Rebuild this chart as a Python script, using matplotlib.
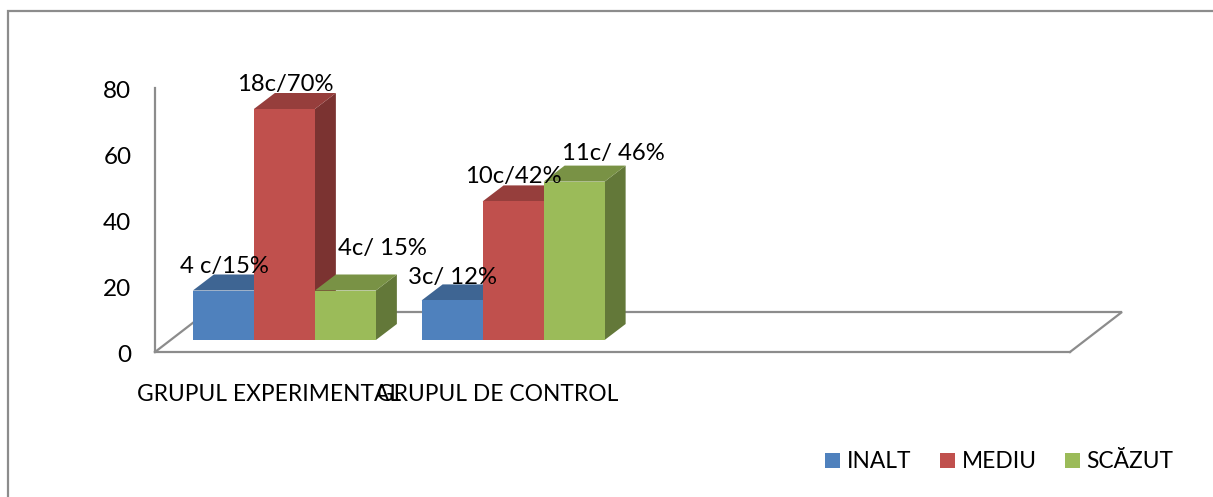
import matplotlib
matplotlib.use("Agg")
import matplotlib.pyplot as plt
from matplotlib.patches import Polygon, Patch
from matplotlib.lines import Line2D
from matplotlib.colors import to_rgb
from matplotlib.transforms import ScaledTranslation

categories = ["GRUPUL EXPERIMENTAL", "GRUPUL DE CONTROL", "", ""]
series_names = ["INALT", "MEDIU", "SCĂZUT"]
inalt = [15, 12]
mediu = [70, 42]
scazut = [15, 48]
labels_inalt = ["4 c/15%", "3c/ 12%"]
labels_mediu = ["18c/70%", "10c/42%"]
labels_scazut = ["4c/ 15%", "11c/ 46%"]
y_ticks = [0, 20, 40, 60, 80]

W, H = 1213, 497
FONT = "Lato"
FS = 16.4
GRAY = "#8C8C8C"
colors = ["#4F81BD", "#C0504D", "#9BBB59"]

fig = plt.figure(figsize=(W / 100, H / 100), dpi=100, facecolor="white")
ax = fig.add_axes([155 / W, 1 - 352 / H, 915 / W, 264 / H])
ax.set_xlim(-0.5, 3.5)
ax.set_ylim(0, 80)
ax.patch.set_alpha(0)

px_x = 4 / 915  # data units per pixel
px_y = 80 / 264
bar_w = 61 * px_x
shift = 15 * px_x
base = 12 * px_y
dx, dy = 21 * px_x, 16 * px_y
fdx, fdy = 52 * px_x, 40 * px_y


def shade(c, f):
    return tuple(v * f for v in to_rgb(c))


# floor
ax.plot([-0.5, -0.5 + fdx, 3.5 + fdx, 3.5], [0, fdy, fdy, 0], color=GRAY, lw=1.6,
        clip_on=False, zorder=1, solid_joinstyle="miter")

all_vals = [inalt, mediu, scazut]
all_labels = [labels_inalt, labels_mediu, labels_scazut]
# label offsets from the top centre of each bar, in pixels
offsets = [[(1, 24.5), (0, 22.5)], [(1, 24.5), (0, 24.5)], [(37, 42.5), (39.5, 28.5)]]

for g in range(2):
    for s, vals in enumerate(all_vals):
        v = vals[g]
        cx = g + shift + (s - 1) * bar_w
        xl, xr = cx - bar_w / 2, cx + bar_w / 2
        top = base + v
        z = 3 + g * 3 + s
        ax.add_patch(Polygon([(xr, base), (xr, top), (xr + dx, top + dy), (xr + dx, base + dy)],
                             closed=True, fc=shade(colors[s], 0.64), ec="none", clip_on=False, zorder=z))
        ax.add_patch(Polygon([(xl, top), (xr, top), (xr + dx, top + dy), (xl + dx, top + dy)],
                             closed=True, fc=shade(colors[s], 0.78), ec="none", clip_on=False, zorder=z))
        ax.bar(cx, v, bar_w, bottom=base, color=colors[s], clip_on=False, zorder=z + 0.5)

for g in range(2):
    for s, vals in enumerate(all_vals):
        cx = g + shift + (s - 1) * bar_w
        ox, oy = offsets[s][g]
        ax.annotate(all_labels[s][g], xy=(cx, base + vals[g]), xytext=(ox * 0.72, oy * 0.72),
                    textcoords="offset points", ha="center", va="center", family=FONT,
                    fontsize=17.2, color="black", zorder=20, annotation_clip=False)

for side in ("top", "right"):
    ax.spines[side].set_visible(False)
for side in ("left", "bottom"):
    ax.spines[side].set_color(GRAY)
    ax.spines[side].set_linewidth(1.6)

ax.set_xticks(range(4))
ax.set_xticklabels(categories, family=FONT, fontsize=FS)
ax.set_yticks(y_ticks)
ax.set_yticklabels([str(t) for t in y_ticks], family=FONT, fontsize=17.5, va="center_baseline")
ax.tick_params(axis="x", length=0, pad=23.2)
ax.tick_params(axis="y", length=0, pad=17)
nudge = ScaledTranslation(0, -1.5 / 100, fig.dpi_scale_trans)
for lbl in ax.get_yticklabels():
    lbl.set_transform(lbl.get_transform() + nudge)

handles = [Patch(fc=c, ec="none") for c in colors]
fig.legend(handles, series_names, loc="center right", bbox_to_anchor=(1173.5 / W, 1 - 462 / H),
           ncol=3, frameon=False, prop={"family": FONT, "size": FS},
           handlelength=0.655, handleheight=0.655, handletextpad=0.3, columnspacing=1.24,
           borderpad=0, borderaxespad=0)

# outer chart frame: left and top edges only
fig.add_artist(Line2D([7.5 / W, 7.5 / W, 1], [0, 1 - 11 / H, 1 - 11 / H],
                      color=GRAY, lw=1.6, solid_joinstyle="miter"))

fig.savefig("out.png", dpi=100)
